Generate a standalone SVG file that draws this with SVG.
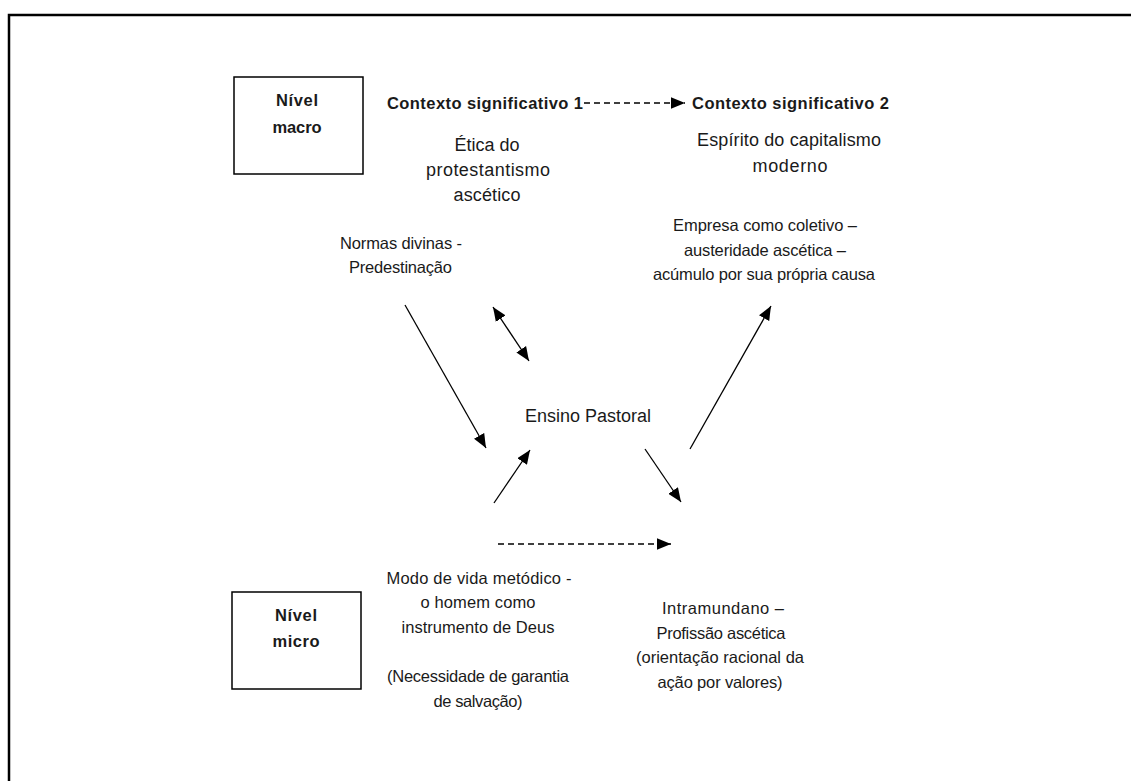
<svg xmlns="http://www.w3.org/2000/svg" width="1131" height="781" viewBox="0 0 1131 781">
<style>
text{font-family:"Liberation Sans",Arial,sans-serif;fill:#1a1a1a;}
.b{font-size:16.5px;font-weight:bold;}
.l{font-size:18px;text-anchor:middle;}
.s{font-size:16.5px;text-anchor:middle;}
.bc{font-size:16.5px;font-weight:bold;text-anchor:middle;}
.box{fill:#fff;stroke:#000;stroke-width:1.5;}
.ar{stroke:#000;stroke-width:1.3;fill:none;marker-end:url(#ah);}
.da{stroke:#000;stroke-width:1.3;fill:none;stroke-dasharray:6 4;marker-end:url(#ah);}
</style>
<defs>
<marker id="ah" markerUnits="userSpaceOnUse" markerWidth="14" markerHeight="12" refX="12" refY="5" orient="auto-start-reverse" viewBox="0 0 12 10">
<path d="M0,0 L12,5 L0,10 Z" fill="#000"/>
</marker>
</defs>
<rect width="1131" height="781" fill="#fff"/>
<path d="M9,781 V15 H1131" fill="none" stroke="#000" stroke-width="2.5"/>

<g id="nivel-macro">
<rect class="box" x="234" y="77" width="129" height="97"/>
<text class="bc" x="297" y="106" textLength="42">Nível</text>
<text class="bc" x="297" y="133" textLength="49">macro</text>
</g>
<g id="nivel-micro">
<rect class="box" x="232" y="592" width="129" height="97"/>
<text class="bc" x="296" y="621" textLength="42">Nível</text>
<text class="bc" x="296" y="647" textLength="47">micro</text>
</g>
<g id="contexto1">
<text class="b" x="387" y="109" textLength="196">Contexto significativo 1</text>
<text class="l" x="487" y="151" textLength="65">Ética do</text>
<text class="l" x="488" y="176" textLength="124">protestantismo</text>
<text class="l" x="487" y="201" textLength="67">ascético</text>
</g>
<g id="contexto2">
<text class="b" x="692" y="109" textLength="197">Contexto significativo 2</text>
<text class="l" x="789" y="146" textLength="184">Espírito do capitalismo</text>
<text class="l" x="790" y="172" textLength="75">moderno</text>
</g>
<g id="empresa">
<text class="s" x="765" y="231" textLength="184">Empresa como coletivo –</text>
<text class="s" x="765" y="256" textLength="162">austeridade ascética –</text>
<text class="s" x="764" y="280" textLength="222">acúmulo por sua própria causa</text>
</g>
<g id="normas">
<text class="s" x="401" y="249" textLength="122">Normas divinas -</text>
<text class="s" x="400.5" y="273" textLength="103">Predestinação</text>
</g>
<g id="ensino">
<text class="l" x="588" y="422" textLength="126">Ensino Pastoral</text>
</g>
<g id="modo-de-vida">
<text class="s" x="479" y="584" textLength="185">Modo de vida metódico -</text>
<text class="s" x="478" y="608" textLength="115">o homem como</text>
<text class="s" x="478" y="633" textLength="153">instrumento de Deus</text>
<text class="s" x="478" y="682" textLength="182">(Necessidade de garantia</text>
<text class="s" x="478" y="707" textLength="89">de salvação)</text>
</g>
<g id="intramundano">
<text class="s" x="723" y="614" textLength="122">Intramundano –</text>
<text class="s" x="721" y="639" textLength="129">Profissão ascética</text>
<text class="s" x="720" y="663" textLength="168">(orientação racional da</text>
<text class="s" x="720" y="688" textLength="125">ação por valores)</text>
</g>

<g id="connectors">
<line class="da" x1="584" y1="103" x2="685" y2="103"/>
<line class="ar" x1="405" y1="305" x2="486" y2="448"/>
<line class="ar" x1="493" y1="307" x2="529" y2="361" style="marker-start:url(#ah)"/>
<line class="ar" x1="494" y1="503" x2="530" y2="450"/>
<line class="ar" x1="645" y1="449" x2="681" y2="502"/>
<line class="ar" x1="690" y1="449" x2="771" y2="306"/>
<line class="da" x1="498" y1="544" x2="671" y2="544"/>
</g>
</svg>
